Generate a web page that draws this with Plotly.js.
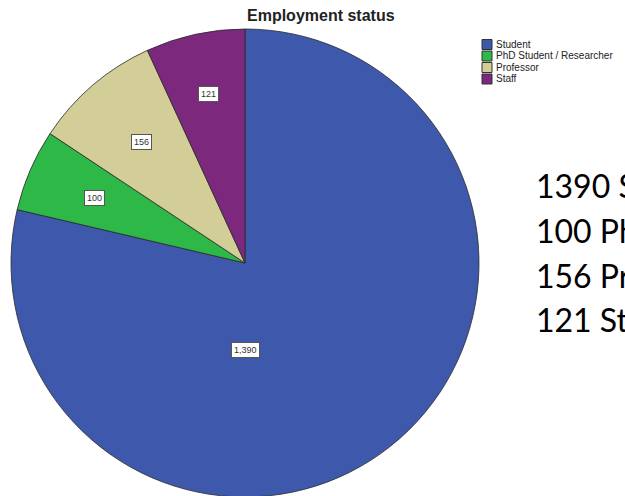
<!DOCTYPE html>
<html>
<head>
<meta charset="utf-8">
<script src="https://cdn.plot.ly/plotly-3.0.1.min.js"></script>
<style>
html,body{margin:0;padding:0;overflow:hidden;background:#fff;}
#chart{width:625px;height:500px;}
</style>
</head>
<body>
<div id="chart"></div>
<script>
// ---- data ----
const categories = ['Student', 'PhD Student / Researcher', 'Professor', 'Staff'];
const counts = [1390, 100, 156, 121];
const countLabels = ['1,390', '100', '156', '121'];
const chartTitle = 'Employment status';

// ---- style ----
const colors = ['#3E58AC', '#2EB848', '#D3CE97', '#7C287D'];
const W = 625, H = 500, TOP = 29;
const pieLeft = 11, pieRight = 479;           // px
const labelRadius = [0.37, 0.70, 0.68, 0.74];  // fraction of radius
const labelAngleOverride = [180, null, null, null];

const plotH = H - TOP;
const px2x = x => x / W;
const px2y = y => 1 - (y - TOP) / plotH;

const R = (pieRight - pieLeft) / 2;
const cx = (pieLeft + pieRight) / 2;
const cy = TOP + R;

const total = counts.reduce((a, b) => a + b, 0);
const annotations = [];
const shapes = [];
let cum = 0;
counts.forEach((v, i) => {
  let mid = (cum + v / 2) / total * 360;
  cum += v;
  if (labelAngleOverride[i] !== null) mid = labelAngleOverride[i];
  const rad = mid * Math.PI / 180;
  const r = labelRadius[i] * R;
  const x = cx + r * Math.sin(rad);
  const y = cy - r * Math.cos(rad);
  annotations.push({
    xref: 'paper', yref: 'paper', x: px2x(x), y: px2y(y),
    text: countLabels[i], showarrow: false,
    font: {family: 'Arial, Liberation Sans', size: 9, color: '#333'},
    bgcolor: '#ffffff', bordercolor: '#555', borderwidth: 1, borderpad: 2,
    xanchor: 'center', yanchor: 'middle'
  });
});

// compact legend (SPSS style)
categories.forEach((c, i) => {
  const mid = 44.5 + i * 11.5;
  shapes.push({
    type: 'rect', xref: 'paper', yref: 'paper',
    x0: px2x(482), x1: px2x(492), y0: px2y(mid - 5), y1: px2y(mid + 5),
    fillcolor: colors[i], line: {color: '#333', width: 1}
  });
  annotations.push({
    xref: 'paper', yref: 'paper', x: px2x(494), y: px2y(mid),
    text: c, showarrow: false, xanchor: 'left', yanchor: 'middle',
    font: {family: 'Arial, Liberation Sans', size: 10, color: '#222'}
  });
});

// side notes
counts.forEach((v, i) => {
  annotations.push({
    xref: 'paper', yref: 'paper', x: px2x(534), y: px2y(186 + i * 44.5),
    text: v + ' ' + categories[i], showarrow: false,
    xanchor: 'left', yanchor: 'middle',
    font: {family: 'Lato, Carlito, Calibri, sans-serif', size: 32, color: '#000'}
  });
});

const trace = {
  type: 'pie',
  labels: categories,
  values: counts,
  sort: false,
  direction: 'clockwise',
  rotation: 0,
  textinfo: 'none',
  hoverinfo: 'skip',
  marker: {colors: colors, line: {color: '#2b2b2b', width: 0.8}},
  domain: {x: [px2x(pieLeft), px2x(pieRight)], y: [px2y(TOP + 2 * R), 1]},
  showlegend: false
};

const layout = {
  width: W, height: H,
  margin: {l: 0, r: 0, t: TOP, b: 0, pad: 0},
  paper_bgcolor: '#fff', plot_bgcolor: '#fff',
  showlegend: false,
  title: {
    text: '<b>' + chartTitle + '</b>',
    x: 247 / W, xanchor: 'left', xref: 'container',
    y: 1 - 15 / H, yanchor: 'middle', yref: 'container',
    font: {family: 'Arial, Liberation Sans', size: 16, color: '#222'}
  },
  annotations: annotations,
  shapes: shapes
};

Plotly.newPlot('chart', [trace], layout, {displayModeBar: false, staticPlot: true});
</script>
</body>
</html>
